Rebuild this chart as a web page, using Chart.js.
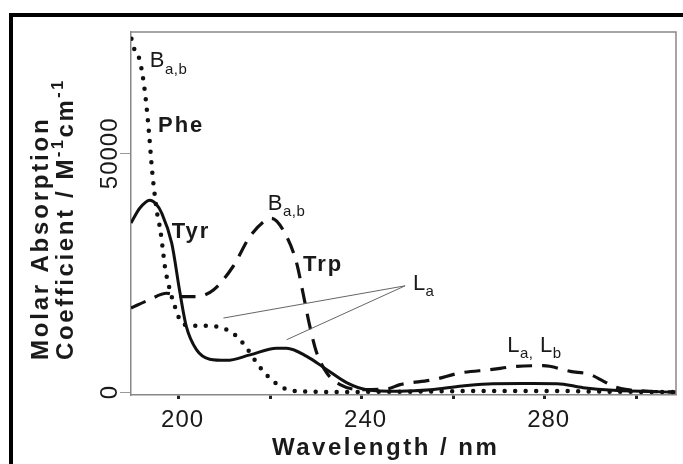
<!DOCTYPE html>
<html>
<head>
<meta charset="utf-8">
<script src="https://cdn.jsdelivr.net/npm/chart.js@4"></script>
<style>
  html, body { margin: 0; padding: 0; background: #fff; }
  canvas { display: block; }
</style>
</head>
<body>
<canvas id="spectra" width="683" height="464"></canvas>
<script>
// wavelengths (nm) and molar absorption coefficients
const pheNm  = [189.7, 190.4, 191.5, 192.4, 193.0, 193.6, 194.2, 194.7, 195.3, 196.0, 196.6, 197.0, 198.1, 199.2, 200.7, 202.8, 205.4, 208.3, 210.5, 212.7, 214.9, 217.1, 218.5, 220.7, 222.9, 226.5, 235, 250, 260, 270, 280, 290, 300, 308.7];
const pheEps = [74000, 71600, 69500, 64600, 59700, 53500, 46500, 42000, 37500, 34000, 29500, 26300, 21400, 17900, 14500, 13900, 13900, 13750, 13100, 11700, 9200, 6100, 4350, 2260, 880, 170, 50, 100, 200, 250, 250, 150, 50, 0];

const tyrNm  = [189.6, 191.5, 193.7, 195.0, 196.3, 198.5, 200.3, 201.7, 203.9, 206.8, 210.5, 215.6, 221.4, 223.6, 228.0, 232.4, 236.7, 241.1, 248.4, 255, 262, 268.7, 275, 282.7, 288.4, 295, 308.7];
const tyrEps = [35400, 38500, 40200, 39500, 37500, 31200, 20800, 13700, 8900, 6900, 6650, 7800, 9200, 9200, 7500, 4700, 2000, 520, 200, 500, 1300, 1780, 1800, 1780, 940, 400, 0];

const trpNm  = [189.6, 193.5, 197.4, 201, 204, 207.6, 211.9, 215.6, 219.2, 220.3, 223.6, 225.8, 227.2, 228.7, 230.2, 232.4, 235.3, 239.6, 245.5, 248.4, 255.7, 261.5, 268.1, 273.9, 279.7, 285.6, 290, 292.9, 295, 298, 303, 308.7];
const trpEps = [17600, 19300, 20700, 20000, 20000, 21400, 26300, 32600, 36100, 36400, 32600, 27000, 20700, 13700, 8200, 4000, 1570, 520, 670, 1570, 2610, 4010, 4700, 5390, 5540, 4350, 3660, 2260, 1210, 520, 170, 0];

const xTicks = [200, 220, 240, 260, 280, 300];
const xTickLabels = ['200', '', '240', '', '280', ''];
const yTicks = [0, 50000];
const yTickLabels = ['0', '50000'];

// text labels placed in data units: [runs, nm, eps, bold]; run kind 1 = subscript
const notes = [
  [[['B', 0], ['a,b', 1]], 193.7, 68000, false],
  [[['Phe', 0]], 195.5, 54400, true],
  [[['Tyr', 0]], 198.5, 32300, true],
  [[['B', 0], ['a,b', 1]], 219.5, 38100, false],
  [[['Trp', 0]], 227.2, 25400, true],
  [[['L', 0], ['a', 1]], 251.2, 21400, false],
  [[['L', 0], ['a,', 1], [' L', 0], ['b', 1]], 271.8, 8470, false]
];
const pointerFrom = [249.5, 22260];
const pointerTo = [[209.8, 15510], [223.6, 10970]];

const FONT = '"Liberation Sans", Arial, sans-serif';

function toPoints(xs, ys) {
    return xs.map((x, i) => ({ x: x, y: ys[i] }));
}

// draws text runs left to right; kind 1 = subscript, 2 = superscript
function drawRuns(c, x, y, runs, size, bold, spacing) {
    let cx = x;
    runs.forEach(([t, kind]) => {
        const s = kind ? Math.round(size * 0.68) : size;
        c.font = (bold ? 'bold ' : '') + s + 'px ' + FONT;
        c.letterSpacing = spacing + 'px';
        const dy = kind === 1 ? size * 0.28 : kind === 2 ? -size * 0.42 : 0;
        c.fillText(t, cx, y + dy);
        cx += c.measureText(t).width;
    });
}

const overlay = {
    id: 'overlay',
    beforeDraw(chart) {
        const c = chart.ctx;
        c.save();
        c.fillStyle = '#fff';
        c.fillRect(0, 0, chart.width, chart.height);
        c.restore();
    },
    afterDraw(chart) {
        const c = chart.ctx;
        const a = chart.chartArea;
        const xs = chart.scales.x, ys = chart.scales.y;
        c.save();

        // top and right edges of the plot box
        c.strokeStyle = '#888';
        c.lineWidth = 1.5;
        c.beginPath();
        c.moveTo(a.left, a.top);
        c.lineTo(a.right, a.top);
        c.lineTo(a.right, a.bottom);
        c.stroke();

        // outer black frame (runs off the right and bottom)
        c.strokeStyle = '#000';
        c.lineWidth = 4;
        c.strokeRect(11, 15, 720, 520);

        c.fillStyle = '#1a1a1a';
        c.textBaseline = 'alphabetic';

        // x tick labels
        c.textAlign = 'center';
        c.font = '24px ' + FONT;
        c.letterSpacing = '1px';
        xTicks.forEach((v, i) => {
            if (xTickLabels[i]) c.fillText(xTickLabels[i], xs.getPixelForValue(v) + 4, a.bottom + 32);
        });

        // y tick labels, rotated
        yTicks.forEach((v, i) => {
            c.save();
            c.translate(a.left - 14, ys.getPixelForValue(v));
            c.rotate(-Math.PI / 2);
            c.fillText(yTickLabels[i], 0, 0);
            c.restore();
        });

        c.textAlign = 'left';
        // x title
        drawRuns(c, 272, 455, [['Wavelength / nm', 0]], 24, true, 2.5);

        // y title, two rotated lines
        c.save();
        c.translate(48, 360);
        c.rotate(-Math.PI / 2);
        drawRuns(c, 0, 0, [['Molar Absorption', 0]], 24, true, 2.8);
        c.restore();
        c.save();
        c.translate(73, 360);
        c.rotate(-Math.PI / 2);
        drawRuns(c, 0, 0, [['Coefficient / M', 0], ['-1', 2], ['cm', 0], ['-1', 2]], 24, true, 2.6);
        c.restore();

        // thin pointer lines to the La bands
        c.strokeStyle = '#666';
        c.lineWidth = 1;
        pointerTo.forEach(p => {
            c.beginPath();
            c.moveTo(xs.getPixelForValue(pointerFrom[0]), ys.getPixelForValue(pointerFrom[1]));
            c.lineTo(xs.getPixelForValue(p[0]), ys.getPixelForValue(p[1]));
            c.stroke();
        });

        // band / residue labels
        notes.forEach(([runs, nm, eps, bold]) => {
            drawRuns(c, xs.getPixelForValue(nm), ys.getPixelForValue(eps), runs, 22, bold, bold ? 2 : 0.5);
        });

        c.restore();
    }
};

new Chart(document.getElementById('spectra').getContext('2d'), {
    type: 'line',
    data: {
        datasets: [
            {
                label: 'Phe',
                data: toPoints(pheNm, pheEps),
                borderColor: '#111',
                borderWidth: 4.5,
                borderDash: [0, 10.5],
                borderCapStyle: 'round',
                cubicInterpolationMode: 'monotone',
                pointRadius: 0
            },
            {
                label: 'Tyr',
                data: toPoints(tyrNm, tyrEps),
                borderColor: '#111',
                borderWidth: 3,
                cubicInterpolationMode: 'monotone',
                pointRadius: 0
            },
            {
                label: 'Trp',
                data: toPoints(trpNm, trpEps),
                borderColor: '#111',
                borderWidth: 3.2,
                borderDash: [16, 10],
                cubicInterpolationMode: 'monotone',
                pointRadius: 0
            }
        ]
    },
    options: {
        responsive: false,
        animation: false,
        layout: { padding: { left: 120, top: 32, right: 7, bottom: 65 } },
        plugins: {
            legend: { display: false },
            tooltip: { enabled: false }
        },
        scales: {
            x: {
                type: 'linear',
                min: 189.6,
                max: 308.7,
                afterBuildTicks: s => { s.ticks = xTicks.map(v => ({ value: v })); },
                ticks: { display: false },
                grid: { drawOnChartArea: false, tickLength: 4, tickWidth: 3, tickColor: '#222' },
                border: { color: '#888', width: 1.5 }
            },
            y: {
                type: 'linear',
                min: -600,
                max: 75400,
                afterBuildTicks: s => { s.ticks = yTicks.map(v => ({ value: v })); },
                ticks: { display: false },
                grid: { drawOnChartArea: false, tickLength: 11, tickWidth: 1, tickColor: '#999' },
                border: { color: '#888', width: 1.5 }
            }
        }
    },
    plugins: [overlay]
});
</script>
</body>
</html>
